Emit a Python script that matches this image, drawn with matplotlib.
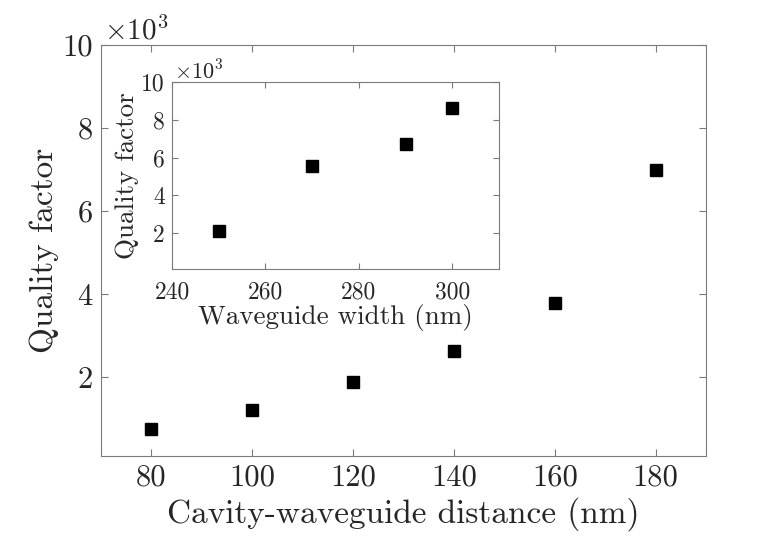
import numpy as np
import matplotlib
matplotlib.use('Agg')
import matplotlib.pyplot as plt
from matplotlib.ticker import FuncFormatter

# main data: cavity-waveguide distance vs Q
dist = [80, 100, 120, 140, 160, 180]
q_dist = [750, 1200, 1880, 2630, 3780, 7000]

# inset data: waveguide width vs Q
width = [250, 270, 290, 300]
q_width = [2100, 5550, 6700, 8650]

plt.rcParams['font.family'] = ['cmr10', 'DejaVu Serif']
plt.rcParams['mathtext.fontset'] = 'cm'
plt.rcParams['axes.unicode_minus'] = False

txt = '#262626'
spine = '#7a7a7a'
kfmt = FuncFormatter(lambda v, p: '%g' % (v / 1000))

def style(ax, fs):
    for s in ax.spines.values():
        s.set_color(spine)
        s.set_linewidth(0.8)
    ax.tick_params(direction='in', top=True, right=True, length=5, width=0.8,
                   color=spine, labelcolor=txt, labelsize=fs, pad=6)
    ax.yaxis.set_major_formatter(kfmt)

fig = plt.figure(figsize=(7.8, 5.4), dpi=100)
W, H = 780, 540

ax = fig.add_axes([101 / W, 1 - 456 / H, 605 / W, 411 / H])
ax.plot(dist, q_dist, 's', color='black', markersize=9)
ax.set_xlim(70, 190)
ax.set_ylim(100, 10000)
ax.set_xticks([80, 100, 120, 140, 160, 180])
ax.set_yticks([2000, 4000, 6000, 8000, 10000])
style(ax, 22)
ax.set_xlabel('Cavity-waveguide distance (nm)', fontsize=24, color=txt, labelpad=4)
ax.set_ylabel('Quality factor', fontsize=24, color=txt, labelpad=2)
ax.text(0.005, 1.0, r'$\times10^3$', transform=ax.transAxes, fontsize=21,
        color=txt, ha='left', va='bottom')

ins = fig.add_axes([172 / W, 1 - 269 / H, 327 / W, 187 / H])
ins.plot(width, q_width, 's', color='black', markersize=9)
ins.set_xlim(240, 310)
ins.set_ylim(100, 10000)
ins.set_xticks([240, 260, 280, 300])
ins.set_yticks([2000, 4000, 6000, 8000, 10000])
style(ins, 17)
ins.tick_params(length=4)
ins.tick_params(axis='x', pad=9)
ins.tick_params(axis='y', pad=5)
ins.set_xlabel('Waveguide width (nm)', fontsize=19.5, color=txt, labelpad=0)
ins.set_ylabel('Quality factor', fontsize=19.5, color=txt, labelpad=2)
ins.text(0.005, 0.99, r'$\times10^3$', transform=ins.transAxes, fontsize=16,
         color=txt, ha='left', va='bottom')

fig.savefig('out.png', dpi=100)
